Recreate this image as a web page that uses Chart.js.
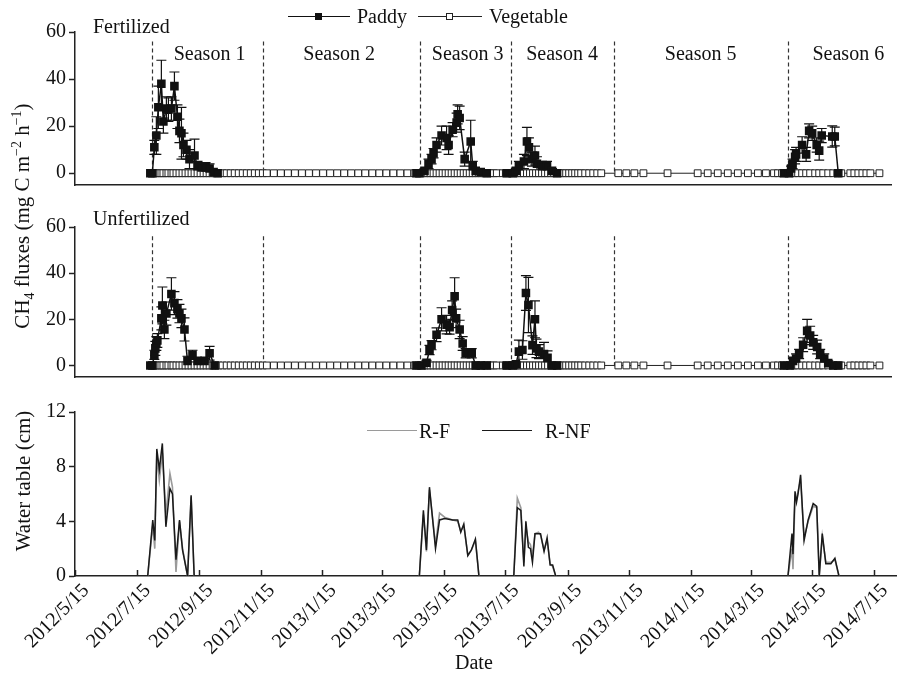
<!DOCTYPE html>
<html>
<head>
<meta charset="utf-8">
<script src="https://cdn.jsdelivr.net/npm/chart.js@4.4.1/dist/chart.umd.min.js"></script>
<style>
  html, body { margin: 0; padding: 0; background: #fff; }
  #wrap { position: relative; width: 898px; height: 675px; overflow: hidden;
          font-family: "Liberation Serif", "Times New Roman", serif; color: #111; }
  #wrap canvas { position: absolute; left: 0; }
  .lbl { position: absolute; font-size: 20px; line-height: 20px; white-space: nowrap; }
  .vtitle { position: absolute; font-size: 21px; line-height: 21px; white-space: nowrap;
            transform: translate(-50%, -50%) rotate(-90deg); }
  .vtitle sub, .vtitle sup { font-size: 14px; line-height: 0; }
  .seg { position: absolute; height: 0; }
  .mk { position: absolute; width: 7px; height: 7px; box-sizing: border-box; }
</style>
</head>
<body>
<div id="wrap">
  <canvas id="fertChart" width="898" height="200" style="top:0"></canvas>
  <canvas id="unfertChart" width="898" height="192" style="top:200px"></canvas>
  <canvas id="waterChart" width="898" height="283" style="top:392px"></canvas>

  <!-- flux legend -->
  <div class="seg" style="left:288px;top:16px;width:62px;border-top:1.5px solid #111"></div>
  <div class="mk" style="left:315px;top:13px;background:#111"></div>
  <div class="lbl" style="left:357px;top:6px">Paddy</div>
  <div class="seg" style="left:418px;top:16px;width:64px;border-top:1px solid #222"></div>
  <div class="mk" style="left:446px;top:13px;background:#fff;border:1px solid #222"></div>
  <div class="lbl" style="left:489px;top:6px">Vegetable</div>

  <!-- water legend -->
  <div class="seg" style="left:367px;top:430px;width:50px;border-top:1.5px solid #9a9a9a"></div>
  <div class="lbl" style="left:419px;top:421px">R-F</div>
  <div class="seg" style="left:482px;top:430px;width:50px;border-top:1.5px solid #1a1a1a"></div>
  <div class="lbl" style="left:545px;top:421px">R-NF</div>

  <div class="lbl" style="left:93px;top:16px">Fertilized</div>
  <div class="lbl" style="left:93px;top:208px">Unfertilized</div>

  <div class="vtitle" style="left:22px;top:216px">CH<sub>4</sub> fluxes (mg C m<sup>−2</sup> h<sup>−1</sup>)</div>
  <div class="vtitle" style="left:23px;top:481px">Water table (cm)</div>
  <div class="lbl" style="left:455px;top:652px">Date</div>
</div>

<script>
const FONT = "'Liberation Serif', 'Times New Roman', serif";

// x is days since 2012/5/15
const tickDays = [0, 61, 123, 184, 245, 304, 365, 426, 488, 549, 610, 669, 730, 791];
const tickLabels = ["2012/5/15", "2012/7/15", "2012/9/15", "2012/11/15", "2013/1/15", "2013/3/15",
  "2013/5/15", "2013/7/15", "2013/9/15", "2013/11/15", "2014/1/15", "2014/3/15", "2014/5/15", "2014/7/15"];

const seasonBounds = [77, 187, 344, 434, 537, 710];
const seasonNames = ["Season 1", "Season 2", "Season 3", "Season 4", "Season 5", "Season 6"];
const seasonMids = [134, 263, 391, 485, 623, 770];

const fluxTicks = [0, 20, 40, 60];
const waterTicks = [0, 4, 8, 12];

// vegetable plots (open squares)
const vegDays = [
  77, 79, 81, 84, 86, 88, 91, 93, 96, 98,
  101, 104, 107, 110, 113, 116, 119, 122, 125, 128,
  131, 134, 137, 140, 143, 147, 151, 155, 159, 163,
  167, 171, 175, 179, 183, 187, 191, 198, 205, 212,
  219, 226, 233, 240, 247, 254, 261, 268, 275, 282,
  289, 296, 303, 310, 317, 324, 331, 338, 342, 345,
  348, 351, 354, 357, 360, 363, 366, 369, 372, 375,
  378, 381, 384, 387, 390, 393, 396, 399, 402, 405,
  408, 411, 414, 417, 420, 426, 429, 432, 435, 438,
  441, 444, 447, 450, 453, 456, 459, 462, 465, 468,
  471, 474, 477, 480, 483, 486, 489, 492, 495, 498,
  501, 504, 508, 512, 516, 520, 524, 541, 549, 557,
  566, 590, 620, 630, 640, 650, 660, 670, 680, 688,
  696, 700, 704, 708, 712, 716, 720, 724, 728, 732,
  737, 741, 745, 750, 755, 759, 763, 772, 776, 780,
  784, 788, 792, 801
];
const vegFertVals = [
  0, 0, 0, 0, 0, 0, 0, 0, 0, 0,
  0, 0, 0, 0, 0, 0, 0, 0, 0, 0,
  0, 0, 0, 0, 0, 0, 0, 0, 0, 0,
  0, 0, 0, 0, 0, 0, 0, 0, 0, 0,
  0, 0, 0, 0, 0, 0, 0, 0, 0, 0,
  0, 0, 0, 0, 0, 0, 0, 0, 0, 0,
  0, 0, 0, 0, 0, 0, 0, 0, 0, 0,
  0, 0, 0, 0, 0, 0, 0, 0, 0, 0,
  0, 0, 0, 0, 0, 0, 0, 0, 0, 0,
  0, 0, 0, 0, 0, 0, 0, 0, 0, 0,
  0, 0, 0, 0, 0, 0, 0, 0, 0, 0,
  0, 0, 0, 0, 0, 0, 0, 0, 0, 0,
  0, 0, 0, 0, 0, 0, 0, 0, 0, 0,
  0, 0, 0, 0, 0, 0, 0, 0, 0, 0,
  0, 0, 0, 0, 0, 0, 0, 0, 0, 0,
  0, 0, 0, 0
];
const vegUnfertVals = [
  0, 0, 0, 0, 0, 0, 0, 0, 0, 0,
  0, 0, 0, 0, 0, 0, 0, 0, 0, 0,
  0, 0, 0, 0, 0, 0, 0, 0, 0, 0,
  0, 0, 0, 0, 0, 0, 0, 0, 0, 0,
  0, 0, 0, 0, 0, 0, 0, 0, 0, 0,
  0, 0, 0, 0, 0, 0, 0, 0, 0, 0,
  0, 0, 0, 0, 0, 0, 0, 0, 0, 0,
  0, 0, 0, 0, 0, 0, 0, 0, 0, 0,
  0, 0, 0, 0, 0, 0, 0, 0, 0, 0,
  0, 0, 0, 0, 0, 0, 0, 0, 0, 0,
  0, 0, 0, 0, 0, 0, 0, 0, 0, 0,
  0, 0, 0, 0, 0, 0, 0, 0, 0, 0,
  0, 0, 0, 0, 0, 0, 0, 0, 0, 0,
  0, 0, 0, 0, 0, 0, 0, 0, 0, 0,
  0, 0, 0, 0, 0, 0, 0, 0, 0, 0,
  0, 0, 0, 0
];

// paddy, fertilized (null = break between seasons)
const padFertDays = [
  75, 77, 79, 81, 83, 86, 88, 91, 93, 96, 99, 102, 104, 106, 108, 111, 114, 119, 122, 126, 130, 134, 138, 142,
  240,
  340, 343, 348, 352, 355, 357, 360, 365, 370, 372, 376, 380, 381, 383, 388, 394, 396, 399, 404, 410,
  420,
  430, 436, 439, 442, 447, 450, 452, 455, 458, 460, 465, 470, 475, 480,
  600,
  706, 711, 713, 714.5, 717, 718, 724, 728, 731, 734, 738.5, 741, 743.5, 754, 756.5, 760
];
const padFertVals = [
  0, 0, 11, 16, 28, 38, 22, 27.5, 27, 27.5, 37, 24, 18, 17, 12, 10, 6, 7.5, 3, 2.5, 2.5, 2, 0.5, 0,
  null,
  0, 0, 1, 4, 6, 8.5, 12, 16, 15, 12, 18.5, 21.5, 25, 23.5, 6, 13.5, 3, 1, 0.5, 0,
  null,
  0, 0, 1, 3, 5, 13.5, 11, 6, 7.5, 4, 3, 3, 1, 0,
  null,
  0, 0, 2, 4, 7, 8, 12, 8, 18, 17, 12, 9.6, 16, 15.6, 15.6, 0
];
const padFertErrs = [
  0, 0, 3, 8, 9, 10, 5, 5, 5, 5, 6, 5, 5, 11, 5, 4, 4, 7, 2, 2, 2, 2, 1, 0,
  0,
  0, 0, 1, 2, 2, 2, 3, 4, 5, 4, 3, 4, 4, 5, 3, 9, 2, 1, 0.5, 0,
  0,
  0, 0, 1, 2, 3, 6, 4, 3, 4, 3, 2, 2, 1, 0,
  0,
  0, 0, 1, 2, 3, 3, 3.5, 3, 3, 3, 3, 4, 3, 4.5, 4, 0
];

// paddy, unfertilized
const padUnfDays = [
  75, 77, 79, 80, 81, 82, 86, 87, 89, 91, 96, 99, 102, 104, 106, 109, 112, 117, 122, 129, 134, 139,
  240,
  340, 345, 350, 353, 355, 360, 365, 370, 373, 375.5, 378, 379.5, 383, 386, 389, 395, 399, 404, 410,
  420,
  430, 436, 439, 442, 445.5, 449, 451.5, 455.5, 458, 459.5, 462, 467, 470.5, 475, 480,
  600,
  706, 712, 715, 718, 721, 725, 729, 732, 735, 739, 742, 746, 750, 755, 760
];
const padUnfVals = [
  0, 0, 4.6, 7.4, 9.5, 10.8, 20.4, 26, 15.6, 22.5, 31, 27, 24.5, 22.5, 20.4, 15.6, 2, 4.6, 2, 2, 5.3, 0,
  null,
  0, 0, 1.2, 6.7, 8.8, 13.3, 20, 17.7, 16.6, 24, 30, 20.4, 15.6, 9.5, 5.3, 5.3, 0, 0, 0,
  null,
  0, 0, 0.5, 6, 6.7, 31.4, 26.2, 8.8, 20, 7.4, 6, 5, 3.3, 0, 0,
  null,
  0, 0, 2, 3, 5, 9, 15, 13, 10, 8, 5, 3, 1, 0, 0
];
const padUnfErrs = [
  0, 0, 2, 3, 3, 3, 5, 8, 4, 5, 7, 5, 4, 4, 4, 5, 2, 2, 1, 1, 3, 0,
  0,
  0, 0, 1, 2, 2, 3, 5, 4, 3, 4, 8, 4, 4, 3, 2, 2, 0, 0, 0,
  0,
  0, 0, 1, 5, 4, 7.5, 12, 4, 8, 4, 3, 5, 3, 0, 0,
  0,
  0, 0, 1, 2, 2, 3, 5, 4, 3, 3, 2, 2, 1, 0, 0
];

// water table (cm)
const wtDays = [
  72, 77, 79, 81, 83.5, 86.5, 90, 94, 96.5, 100, 103.5, 106.5, 111.5, 115, 118,
  230,
  341, 345, 348, 351, 357, 361, 366, 374, 379, 382, 385, 389, 392.5, 396.5, 400,
  417,
  434.5, 438, 441.5, 444.5, 446.5, 449, 451, 453, 455.5, 459, 461, 464.5, 467.5, 470.5, 473, 476,
  600,
  706, 710, 711, 713, 714.5, 716, 718.5, 722, 726, 731, 734.5, 737, 740, 743.5, 748.5, 752.5, 756.5
];
const wtRF = [
  0, 3.7, 2.0, 8.8, 7.0, 9.0, 4.5, 7.5, 6.5, 0.3, 4.0, 2.0, 0, 5.8, 0,
  null,
  0, 4.5, 1.8, 6.3, 2.3, 4.6, 4.3, 4.1, 4.0, 3.3, 3.7, 1.5, 1.9, 2.6, 0,
  null,
  0, 5.7, 5.0, 1.0, 3.6, 2.5, 2.3, 1.5, 3.1, 3.2, 3.0, 1.9, 2.6, 0.9, 0.7, 0,
  null,
  0, 2.0, 0.5, 5.8, 5.6, 6.2, 7.0, 2.8, 4.0, 5.1, 5.0, 0, 2.9, 1.0, 1.0, 1.2, 0
];
const wtRNF = [
  0, 4.1, 2.6, 9.3, 7.8, 9.7, 3.6, 6.4, 6.0, 1.2, 4.1, 1.9, 0, 5.9, 0,
  null,
  0, 4.8, 1.9, 6.5, 2.0, 4.1, 4.2, 4.1, 4.1, 3.2, 3.8, 1.5, 1.9, 2.7, 0,
  null,
  0, 5.0, 4.8, 0.7, 4.0, 2.1, 2.0, 1.0, 3.1, 3.1, 3.1, 1.8, 2.8, 0.8, 0.8, 0,
  null,
  0, 3.1, 1.6, 6.2, 5.4, 6.0, 7.4, 2.6, 4.1, 5.3, 5.1, 0, 3.1, 0.9, 0.9, 1.3, 0
];

const X_MIN = 0;
const X_MAX = 813;
const AXIS = "#222";

Chart.defaults.font.family = FONT;
Chart.defaults.color = "#111";

function pts(days, vals) {
  return days.map((d, i) => ({ x: d, y: vals[i] }));
}

// ── plugins ───────────────────────────────────────────────────────────────
const errorBars = {
  id: "errorBars",
  beforeDatasetsDraw(chart) {
    const { ctx, scales: { x, y } } = chart;
    chart.data.datasets.forEach((ds) => {
      if (!ds.errors) return;
      ctx.save();
      ctx.strokeStyle = "#111";
      ctx.lineWidth = 1.2;
      ds.data.forEach((p, i) => {
        const e = ds.errors[i];
        if (p.y === null || !e) return;
        const px = x.getPixelForValue(p.x);
        const top = y.getPixelForValue(p.y + e);
        const bot = y.getPixelForValue(p.y - e);
        ctx.beginPath();
        ctx.moveTo(px, top); ctx.lineTo(px, bot);
        ctx.moveTo(px - 5, top); ctx.lineTo(px + 5, top);
        ctx.moveTo(px - 5, bot); ctx.lineTo(px + 5, bot);
        ctx.stroke();
      });
      ctx.restore();
    });
  },
};

const seasonLines = {
  id: "seasonLines",
  beforeDatasetsDraw(chart) {
    const { ctx, scales: { x, y } } = chart;
    ctx.save();
    ctx.setLineDash([4, 3]);
    ctx.strokeStyle = "#333";
    ctx.lineWidth = 1.2;
    seasonBounds.forEach((d) => {
      const px = Math.round(x.getPixelForValue(d)) + 0.5;
      ctx.beginPath();
      ctx.moveTo(px, y.getPixelForValue(56));
      ctx.lineTo(px, y.getPixelForValue(-1));
      ctx.stroke();
    });
    ctx.restore();
  },
};

// x tick marks point inward in the bottom panel
const inwardTicks = {
  id: "inwardTicks",
  afterDraw(chart) {
    const { ctx, scales: { x }, chartArea } = chart;
    ctx.save();
    ctx.strokeStyle = AXIS;
    ctx.lineWidth = 1.5;
    tickDays.forEach((d) => {
      const px = Math.round(x.getPixelForValue(d)) + 0.5;
      ctx.beginPath();
      ctx.moveTo(px, chartArea.bottom);
      ctx.lineTo(px, chartArea.bottom - 6);
      ctx.stroke();
    });
    ctx.restore();
  },
};

function yAxis(min, max, ticks) {
  return {
    min, max,
    afterBuildTicks: (s) => { s.ticks = ticks.map((v) => ({ value: v })); },
    afterFit: (s) => { s.width = 75; },
    grid: { drawOnChartArea: false, drawTicks: true, tickLength: 6, tickColor: AXIS, tickWidth: 1.5 },
    border: { display: true, color: AXIS, width: 1.5 },
    ticks: { color: "#111", padding: 3, font: { family: FONT, size: 20 } },
  };
}

function fluxXAxis() {
  return {
    type: "linear", min: X_MIN, max: X_MAX,
    afterFit: (s) => { s.height = 6; },
    grid: { drawOnChartArea: false, drawTicks: false },
    border: { display: true, color: AXIS, width: 1.5 },
    ticks: { display: false },
  };
}

function fluxChart(id, padTop, padDays, padVals, padErrs, vegVals) {
  return new Chart(document.getElementById(id), {
    type: "line",
    data: {
      datasets: [
        {
          label: "Paddy",
          data: pts(padDays, padVals),
          errors: padErrs,
          borderColor: "#111", borderWidth: 1.5,
          pointStyle: "rect", pointRadius: 5,
          pointBackgroundColor: "#111", pointBorderColor: "#111",
          tension: 0, spanGaps: false,
        },
        {
          label: "Vegetable",
          data: pts(vegDays, vegVals),
          borderColor: "#222", borderWidth: 1,
          pointStyle: "rect", pointRadius: 4.8,
          pointBackgroundColor: "#fff", pointBorderColor: "#222", pointBorderWidth: 1,
          tension: 0,
        },
      ],
    },
    options: {
      responsive: false,
      devicePixelRatio: 1,
      animation: false,
      layout: { padding: { top: padTop, right: 2, left: 0, bottom: 0 } },
      plugins: { legend: { display: false }, tooltip: { enabled: false } },
      scales: { x: fluxXAxis(), y: yAxis(-5, 60, fluxTicks) },
    },
    plugins: [seasonLines, errorBars],
  });
}

const fertChart = fluxChart("fertChart", 32, padFertDays, padFertVals, padFertErrs, vegFertVals);
const unfertChart = fluxChart("unfertChart", 27, padUnfDays, padUnfVals, padUnfErrs, vegUnfertVals);

const waterChart = new Chart(document.getElementById("waterChart"), {
  type: "line",
  data: {
    datasets: [
      {
        label: "R-NF",
        data: pts(wtDays, wtRNF),
        borderColor: "#1a1a1a", borderWidth: 1.5,
        pointRadius: 0, tension: 0, spanGaps: false,
      },
      {
        label: "R-F",
        data: pts(wtDays, wtRF),
        borderColor: "#9a9a9a", borderWidth: 1.6,
        pointRadius: 0, tension: 0, spanGaps: false,
      },
    ],
  },
  options: {
    responsive: false,
    devicePixelRatio: 1,
    animation: false,
    layout: { padding: { top: 20, right: 2, left: 0, bottom: 0 } },
    plugins: { legend: { display: false }, tooltip: { enabled: false } },
    scales: {
      x: {
        type: "linear", min: X_MIN, max: X_MAX,
        afterBuildTicks: (s) => { s.ticks = tickDays.map((v) => ({ value: v })); },
        afterFit: (s) => { s.height = 99; },
        grid: { drawOnChartArea: false, drawTicks: false },
        border: { display: true, color: AXIS, width: 1.5 },
        ticks: {
          autoSkip: false, minRotation: 45, maxRotation: 45, padding: 3, labelOffset: 11,
          color: "#111", font: { family: FONT, size: 20 },
          callback: (v) => tickLabels[tickDays.indexOf(v)],
        },
      },
      y: yAxis(0, 12, waterTicks),
    },
  },
  plugins: [inwardTicks],
});

// season names sit over the top panel, placed through its x scale
const wrap = document.getElementById("wrap");
seasonNames.forEach((name, i) => {
  const el = document.createElement("div");
  el.className = "lbl";
  el.textContent = name;
  el.style.left = fertChart.scales.x.getPixelForValue(seasonMids[i]) + "px";
  el.style.top = "43px";
  el.style.transform = "translateX(-50%)";
  wrap.appendChild(el);
});
</script>
</body>
</html>
